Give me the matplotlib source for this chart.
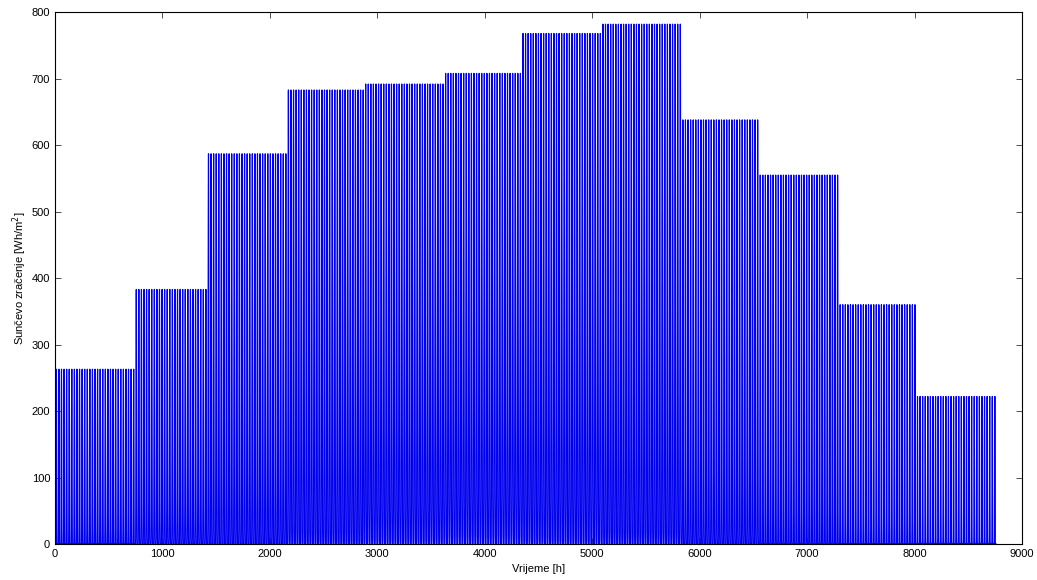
import numpy as np
import matplotlib
matplotlib.use("Agg")
import matplotlib.pyplot as plt

plt.rcParams['font.family'] = ['Liberation Sans', 'DejaVu Sans']
plt.rcParams['path.simplify'] = False

# days per month
month_days = [31, 28, 31, 30, 31, 30, 31, 31, 30, 31, 30, 31]

# typical daily hourly irradiance profile per month [Wh/m2], hours 0..23
jan = [0]*7 + [22, 93, 172, 225, 255, 263, 245, 200, 135, 50] + [0]*7
feb = [0]*6 + [10, 60, 160, 265, 335, 375, 383, 355, 300, 220, 115, 30] + [0]*6
mar = [0]*6 + [20, 110, 250, 390, 500, 565, 587, 550, 460, 340, 200, 70] + [0]*6
apr = [0]*5 + [5, 80, 220, 380, 520, 625, 680, 683, 630, 540, 410, 260, 110, 20] + [0]*5
may = [0]*4 + [5, 60, 180, 330, 470, 590, 670, 692, 660, 580, 460, 320, 180, 60, 10, 0] + [0]*4
jun = [0]*4 + [10, 70, 190, 340, 480, 600, 680, 708, 680, 600, 480, 340, 195, 75, 15, 0] + [0]*4
jul = [0]*4 + [5, 65, 195, 355, 510, 640, 735, 768, 740, 650, 520, 365, 205, 75, 10, 0] + [0]*4
aug = [0]*5 + [20, 130, 300, 470, 620, 730, 782, 760, 680, 555, 400, 230, 80, 10] + [0]*5
sep = [0]*6 + [40, 170, 330, 470, 580, 638, 620, 540, 420, 270, 110, 15] + [0]*6
octo = [0]*6 + [5, 90, 240, 380, 490, 555, 530, 450, 330, 180, 50, 0] + [0]*6
nov = [0]*7 + [30, 130, 240, 320, 360, 340, 270, 160, 50, 0] + [0]*7
dec = [0]*7 + [10, 80, 160, 210, 222, 190, 130, 50, 5, 0] + [0]*7
profiles = [jan, feb, mar, apr, may, jun, jul, aug, sep, octo, nov, dec]

x_ticks = [0, 1000, 2000, 3000, 4000, 5000, 6000, 7000, 8000, 9000]
y_ticks = [0, 100, 200, 300, 400, 500, 600, 700, 800]

# build the hourly series by repeating each month's daily profile
series = []
for days, prof in zip(month_days, profiles):
    for _ in range(days):
        series.extend(prof)
series = np.array(series, dtype=float)
hours = np.arange(1, len(series) + 1)

fig = plt.figure(figsize=(10.37, 5.80), dpi=100)
ax = fig.add_axes([0.053, 0.062, 0.9325, 0.917])
ax.plot(hours, series, color='#0000ee', linewidth=0.85, antialiased=True)
ax.set_xlim(0, 9000)
ax.set_ylim(0, 800)
ax.set_xticks(x_ticks)
ax.set_yticks(y_ticks)
ax.tick_params(direction='in', top=True, right=True, labelsize=8, length=4, width=0.6,
               colors='#333333', labelcolor='black')
for s in ax.spines.values():
    s.set_linewidth(0.8)
ax.set_xlabel('Vrijeme [h]', fontsize=8, labelpad=4)
ax.set_ylabel('Sunčevo zračenje [Wh/m$^2$]', fontsize=8, labelpad=2)
fig.savefig('out.png', dpi=100)
